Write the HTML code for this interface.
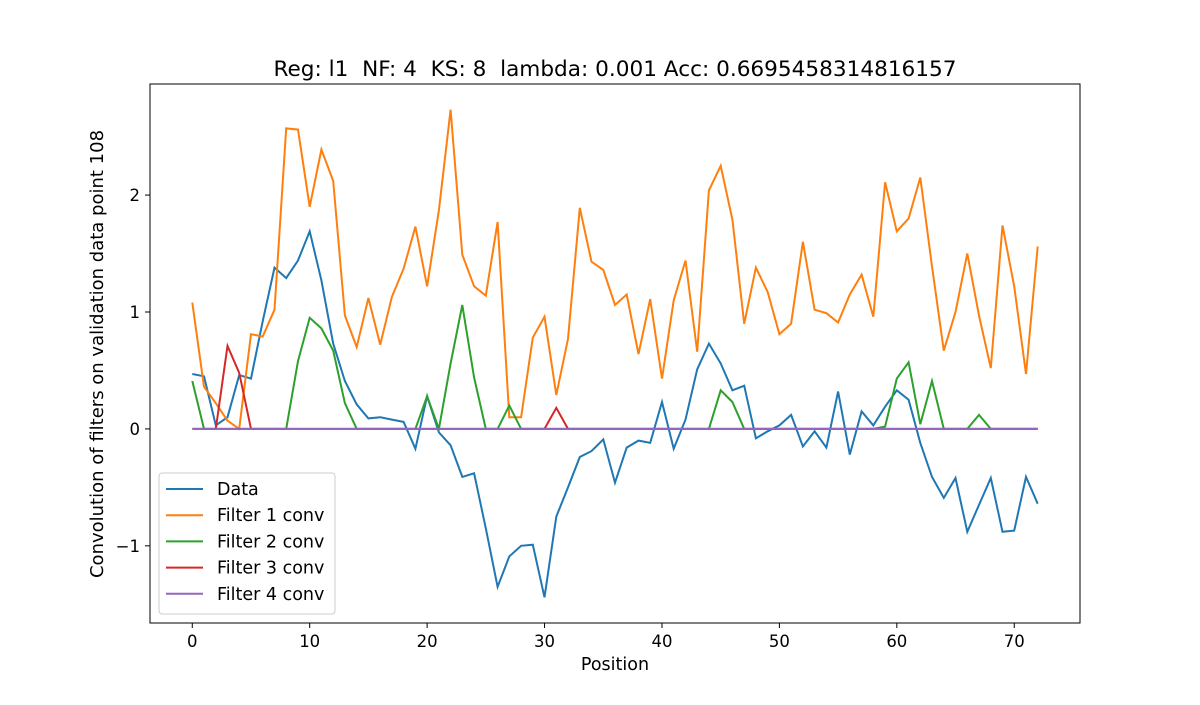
<!DOCTYPE html>
<html><head><meta charset="utf-8"><style>
body{margin:0;background:#fff;}
svg text{font-family:"DejaVu Sans","Liberation Sans",sans-serif;fill:#000;white-space:pre;}
</style></head><body>
<svg id="chart" width="1200" height="700" xmlns="http://www.w3.org/2000/svg">
<rect width="1200" height="700" fill="#fff"/>
<text x="615" y="76" font-size="21.6" text-anchor="middle" xml:space="preserve">Reg: l1  NF: 4  KS: 8  lambda: 0.001 Acc: 0.6695458314816157</text>
<g id="marks"></g>
<g id="axes"></g>
<rect x="150" y="84" width="930" height="539" fill="none" stroke="#000" stroke-width="1"/>
<text x="615" y="670" font-size="17.5" text-anchor="middle">Position</text>
<text transform="translate(103,354) rotate(-90)" font-size="18" text-anchor="middle">Convolution of filters on validation data point 108</text>
<g id="legend"></g>
</svg>
<script>
const seriesNames=["Data","Filter 1 conv","Filter 2 conv","Filter 3 conv","Filter 4 conv"];
const dataVals=[0.47,0.45,0.03,0.1,0.46,0.43,0.92,1.38,1.29,1.44,1.69,1.27,0.73,0.41,0.21,0.09,0.1,0.08,0.06,-0.17,0.28,-0.03,-0.14,-0.41,-0.38,-0.85,-1.35,-1.09,-1.0,-0.99,-1.44,-0.75,-0.5,-0.24,-0.19,-0.09,-0.46,-0.16,-0.1,-0.12,0.23,-0.17,0.08,0.51,0.73,0.56,0.33,0.37,-0.08,-0.02,0.03,0.12,-0.15,-0.02,-0.16,0.32,-0.22,0.15,0.03,0.19,0.33,0.25,-0.12,-0.41,-0.59,-0.42,-0.88,-0.65,-0.42,-0.88,-0.87,-0.41,-0.64];
const filter1Vals=[1.08,0.36,0.22,0.07,0.0,0.81,0.79,1.02,2.57,2.56,1.9,2.39,2.12,0.97,0.7,1.12,0.72,1.13,1.37,1.73,1.22,1.87,2.73,1.49,1.22,1.14,1.77,0.1,0.1,0.78,0.96,0.29,0.77,1.89,1.43,1.36,1.06,1.15,0.64,1.11,0.43,1.1,1.44,0.66,2.04,2.25,1.79,0.9,1.38,1.17,0.81,0.9,1.6,1.02,0.99,0.91,1.15,1.32,0.96,2.11,1.69,1.8,2.15,1.39,0.67,1.0,1.5,0.97,0.52,1.74,1.22,0.47,1.56];
const filter2Vals=[0.41,0,0,0,0,0,0,0,0,0.58,0.95,0.86,0.67,0.22,0,0,0,0,0,0,0.28,0,0.56,1.06,0.44,0,0,0.2,0,0,0,0,0,0,0,0,0,0,0,0,0,0,0,0,0,0.33,0.23,0,0,0,0,0,0,0,0,0,0,0,0,0.02,0.43,0.57,0.04,0.41,0,0,0,0.12,0,0,0,0,0];
const filter3Vals=[0,0,0,0.71,0.48,0,0,0,0,0,0,0,0,0,0,0,0,0,0,0,0,0,0,0,0,0,0,0,0,0,0,0.18,0,0,0,0,0,0,0,0,0,0,0,0,0,0,0,0,0,0,0,0,0,0,0,0,0,0,0,0,0,0,0,0,0,0,0,0,0,0,0,0,0];
const filter4Vals=new Array(73).fill(0);
const xTicks=[0,10,20,30,40,50,60,70];
const yTicks=[-1,0,1,2];
const yTickLabels=["\u22121","0","1","2"];
const colors=["#1f77b4","#ff7f0e","#2ca02c","#d62728","#9467bd"];
const NS="http://www.w3.org/2000/svg";
const xS=v=>150+(v+3.6)/79.2*930;
const yS=v=>84+(2.95-v)/4.61*539;
const all=[dataVals,filter1Vals,filter2Vals,filter3Vals,filter4Vals];
const marks=document.getElementById('marks');
const slugs=["data-line","filter-1-line","filter-2-line","filter-3-line","filter-4-line"];
all.forEach((arr,k)=>{
  const p=document.createElementNS(NS,'polyline');
  p.setAttribute('points',arr.map((v,i)=>xS(i).toFixed(1)+','+yS(v).toFixed(1)).join(' '));
  p.setAttribute('fill','none');p.setAttribute('stroke',colors[k]);p.setAttribute('stroke-width','2');
  
  
  marks.appendChild(p);
});
const axes=document.getElementById('axes');
xTicks.forEach(t=>{
  const x=xS(t);
  const l=document.createElementNS(NS,'line');
  l.setAttribute('x1',x);l.setAttribute('x2',x);l.setAttribute('y1',623);l.setAttribute('y2',628);l.setAttribute('stroke','#000');
  
  
  axes.appendChild(l);
  const tx=document.createElementNS(NS,'text');
  tx.setAttribute('x',x);tx.setAttribute('y',647);tx.setAttribute('font-size','16.5');tx.setAttribute('text-anchor','middle');
  tx.textContent=t;
  
  
  axes.appendChild(tx);
});
yTicks.forEach((t,i)=>{
  const y=yS(t);
  const l=document.createElementNS(NS,'line');
  l.setAttribute('x1',145);l.setAttribute('x2',150);l.setAttribute('y1',y);l.setAttribute('y2',y);l.setAttribute('stroke','#000');
  
  
  axes.appendChild(l);
  const tx=document.createElementNS(NS,'text');
  tx.setAttribute('x',140);tx.setAttribute('y',y+6);tx.setAttribute('font-size','16.5');tx.setAttribute('text-anchor','end');
  tx.textContent=yTickLabels[i];
  
  
  axes.appendChild(tx);
});
const lg=document.getElementById('legend');
const box=document.createElementNS(NS,'rect');
box.setAttribute('x',159);box.setAttribute('y',473);box.setAttribute('width',176);box.setAttribute('height',141);box.setAttribute('rx',3);
box.setAttribute('fill','#fff');box.setAttribute('fill-opacity','0.8');box.setAttribute('stroke','#ccc');


lg.appendChild(box);
seriesNames.forEach((n,k)=>{
  const y=489+k*26.2;
  const l=document.createElementNS(NS,'line');
  l.setAttribute('x1',166);l.setAttribute('x2',203);l.setAttribute('y1',y);l.setAttribute('y2',y);
  l.setAttribute('stroke',colors[k]);l.setAttribute('stroke-width','2');
  
  
  lg.appendChild(l);
  const tx=document.createElementNS(NS,'text');
  tx.setAttribute('x',217);tx.setAttribute('y',y+6);tx.setAttribute('font-size','17.5');
  tx.textContent=n;
  
  
  lg.appendChild(tx);
});
</script>
</body></html>
